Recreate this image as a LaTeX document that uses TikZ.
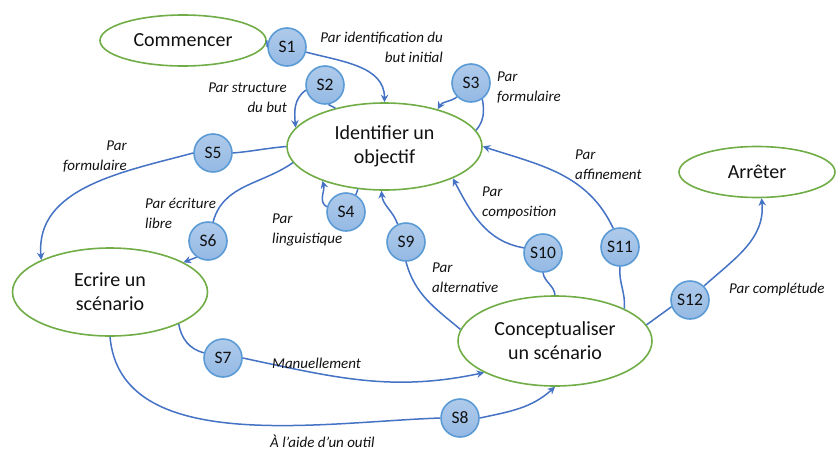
\documentclass[tikz,border=0pt]{standalone}
\usepackage{fontspec}
\setmainfont{Carlito}
\usetikzlibrary{shapes.geometric,arrows.meta}
\definecolor{ellgreen}{HTML}{70AD47}
\definecolor{conblue}{HTML}{4472C4}
\definecolor{circfill}{HTML}{94B9E4}
\definecolor{circline}{HTML}{5B9BD5}
\definecolor{txt}{HTML}{111111}
\tikzset{
  ell/.style={ellipse, draw=ellgreen, line width=1.6pt, fill=white, inner sep=0pt, align=center,
    font=\fontsize{20}{24}\selectfont, text=txt},
  stepc/.style={circle, draw=circline, line width=1.6pt, top color=circfill!75!white, bottom color=circfill,
    minimum size=38pt, inner sep=0pt, font=\fontsize{17.5}{19}\selectfont, text=txt},
  conn/.style={draw=conblue, line width=1.5pt},
  arr/.style={conn, -{Stealth[length=7.5pt,width=7.5pt,inset=2.5pt]}},
  lbl/.style={font=\fontsize{15}{20}\selectfont\itshape, text=txt, inner sep=0pt},
}
\begin{document}
\begin{tikzpicture}[x=1pt,y=1pt]
\useasboundingbox (0,0) rectangle (837,-450);
% ellipses
\node[ell, minimum width=166pt, minimum height=51pt] (com) at (183,-40.5) {Commencer};
\node[ell, minimum width=195pt, minimum height=87pt] (id) at (384.5,-146.5) {Identifier un\\objectif};
\node[ell, minimum width=156pt, minimum height=51pt] (ar) at (757,-172) {Arrêter};
\node[ell, minimum width=195pt, minimum height=88pt] (ec) at (110,-292) {Ecrire un\\scénario};
\node[ell, minimum width=194pt, minimum height=90pt] (co) at (555,-341) {Conceptualiser\\un scénario};
% step circles
\node[stepc] (s1) at (287,-47) {S1};
\node[stepc] (s2) at (325,-85) {S2};
\node[stepc] (s3) at (471,-83) {S3};
\node[stepc] (s4) at (346,-212) {S4};
\node[stepc] (s5) at (213,-153) {S5};
\node[stepc] (s6) at (208,-241) {S6};
\node[stepc] (s7) at (223,-358) {S7};
\node[stepc] (s8) at (460,-418) {S8};
\node[stepc] (s9) at (406,-242) {S9};
\node[stepc] (s10) at (543,-253) {S10};
\node[stepc] (s11) at (620,-247) {S11};
\node[stepc] (s12) at (690,-300) {S12};
% connectors
\draw[conn] (com.east) -- (s1.west);
\draw[arr] (s1.-15) to[out=-15,in=90] (id.north);
\draw[conn] (id.142) -- (s2.-80);
\draw[arr] (s2.195) to[out=215,in=95] (id.168);
\draw[conn] (id.10) to[out=50,in=-80] (s3.-55);
\draw[arr] (s3.225) to[out=215,in=60] (id.35);
\draw[conn] (id.238) -- (s4.60);
\draw[arr] (s4.165) to[out=150,in=-75] (id.209);
\draw[conn] (id.180) to[out=185,in=5] (s5.east);
\draw[arr] (s5.west) to[out=195,in=95] (ec.155);
\draw[conn] (id.190) to[out=215,in=75] (s6.75);
\draw[arr] (s6.235) -- (ec.22);
\draw[conn] (ec.335) to[out=-80,in=165] (s7.165);
\draw[arr] (s7.east) to[out=-12,in=192] (co.204);
\draw[conn] (ec.south) to[out=-85,in=182,looseness=0.9] (s8.west);
\draw[arr] (s8.east) to[out=12,in=222] (co.south);
\draw[conn] (co.173) to[out=140,in=-75] (s9.south);
\draw[arr] (s9.115) to[out=110,in=-85] (id.266);
\draw[conn] (co.north) to[out=95,in=-80] (s10.south);
\draw[arr] (s10.165) to[out=170,in=-62] (id.335);
\draw[conn] (co.25) to[out=85,in=-95] (s11.south);
\draw[arr] (s11.110) to[out=115,in=-18] (id.east);
\draw[conn] (co.10) -- (s12.200);
\draw[arr] (s12.45) to[out=42,in=-85] (ar.280);
% labels
\node[lbl, anchor=east, align=right] (l1) at (443,-47) {Par identification du\\but initial};
\node[lbl, anchor=east, align=right] (l2) at (287,-98) {Par structure\\du but};
\node[lbl, anchor=west, align=left] (l3) at (497,-88) {Par\\formulaire};
\node[lbl, anchor=east, align=right] (l5) at (127,-157) {Par\\formulaire};
\node[lbl, anchor=west, align=left] (l6) at (145,-213.5) {Par écriture\\libre};
\node[lbl, anchor=west, align=left] (l4) at (272,-230) {Par\\linguistique};
\node[lbl, anchor=west, align=left] (l10) at (482,-203) {Par\\composition};
\node[lbl, anchor=west, align=left] (l11) at (575,-165) {Par\\affinement};
\node[lbl, anchor=west, align=left] (l9) at (432,-278) {Par\\alternative};
\node[lbl, anchor=west] (l12) at (729,-289) {Par complétude};
\node[lbl, anchor=west] (l7) at (272,-363) {Manuellement};
\node[lbl, anchor=west] (l8) at (270,-441) {À l’aide d’un outil};
\end{tikzpicture}
\end{document}
